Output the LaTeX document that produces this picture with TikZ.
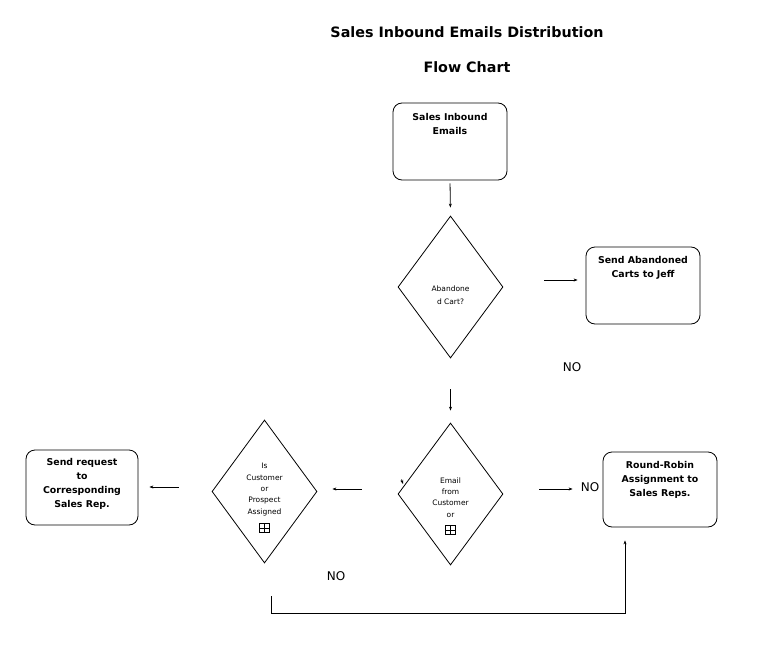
\documentclass[tikz,border=0pt]{standalone}
\usepackage{fontspec}
\setmainfont{DejaVu Sans}
\usetikzlibrary{shapes.geometric,arrows.meta,calc}
\tikzset{
  box/.style={draw,rounded corners=9pt,line width=0.8pt,inner sep=0pt},
  dia/.style={draw,diamond,line width=0.8pt,inner sep=0pt,minimum width=105pt,minimum height=142pt},
  arr/.style={line width=0.8pt,-{Stealth[length=4pt,width=3pt]}},
  btxt/.style={font=\fontsize{9.4}{14}\selectfont\bfseries,align=center,inner sep=0pt},
  dtxt/.style={font=\fontsize{7.5}{11.3}\selectfont,align=center,inner sep=0pt},
  notxt/.style={font=\fontsize{12}{14}\selectfont,inner sep=0pt},
  ttl/.style={font=\fontsize{14.3}{18}\selectfont\bfseries,inner sep=0pt},
  pbox/.style={draw,line width=0.6pt,minimum size=9.5pt,inner sep=0pt,
    path picture={\draw[line width=0.6pt] (path picture bounding box.north) -- (path picture bounding box.south)
      (path picture bounding box.west) -- (path picture bounding box.east);}}
}
\begin{document}
\begin{tikzpicture}[x=1pt,y=-1pt]
\useasboundingbox (0,0) rectangle (774,661);
% titles
\node[ttl] (t1) at (467,32) {Sales Inbound Emails Distribution};
\node[ttl] (t2) at (467,67) {Flow Chart};
% boxes
\node[box,minimum width=114pt,minimum height=77pt] (b1) at (450,141.5) {};
\node[btxt] (b1t) at (450,124) {Sales Inbound\\Emails};
\node[box,minimum width=114pt,minimum height=77pt] (b2) at (643,285.5) {};
\node[btxt] (b2t) at (643,268) {Send Abandoned\\Carts to Jeff};
\node[box,minimum width=112pt,minimum height=75pt] (b4) at (82,487.5) {};
\node[btxt] (b4t) at (82,484) {Send request\\to\\Corresponding\\Sales Rep.};
\node[box,minimum width=114pt,minimum height=75pt] (b5) at (660,489.5) {};
\node[btxt] (b5t) at (660,479.5) {Round-Robin\\Assignment to\\Sales Reps.};
% diamonds
\node[dia] (d1) at (450.5,287) {};
\node[dtxt,font=\fontsize{7.5}{13.5}\selectfont] (d1t) at (450.5,295) {Abandone\\d Cart?};
\node[dia] (d2) at (450.5,494) {};
\node[dtxt] (d2t) at (450.5,497.5) {Email\\from\\Customer\\or};
\node[pbox] (d2p) at (450.5,530) {};
\node[dia,minimum height=143pt] (d3) at (264.5,491.5) {};
\node[dtxt] (d3t) at (264.5,489.5) {Is\\Customer\\or\\Prospect\\Assigned};
\node[pbox] (d3p) at (264.5,528) {};
% NO labels
\node[notxt] (no1) at (572,367) {NO};
\node[notxt] (no2) at (336,576) {NO};
\node[notxt] (no3) at (590,487) {NO};
% connectors
\draw[arr,shorten <=3pt,shorten >=8pt] (b1.south) -- (d1.north);
\draw[arr,shorten <=41pt,shorten >=8pt] ([yshift=7pt]d1.east) -- ([yshift=7pt]d1.east -| b2.west);
\draw[arr,shorten <=31pt,shorten >=12pt] (d1.south) -- (d2.north);
\draw[arr,shorten <=36pt,shorten >=15pt] ([yshift=5pt]d2.west) -- ([yshift=5pt]d2.west -| d3.east);
\draw[arr,shorten <=33pt,shorten >=11pt] ([yshift=4.5pt]d3.west) -- ([yshift=4.5pt]d3.west -| b4.east);
\draw[arr,shorten <=36pt,shorten >=30pt] ([yshift=5pt]d2.east) -- ([yshift=5pt]d2.east -| b5.west);
\coordinate (c2) at (625,613);
\draw[arr,shorten >=13pt] ([yshift=-33pt,xshift=6.5pt]d3.south) |- (c2) -- (c2 |- b5.south);
% tiny stray arrow tip
\coordinate (s1) at (401.5,479.5);
\coordinate (s2) at (403,484);
\draw[arr] (s1) -- (s2);
\end{tikzpicture}
\end{document}
